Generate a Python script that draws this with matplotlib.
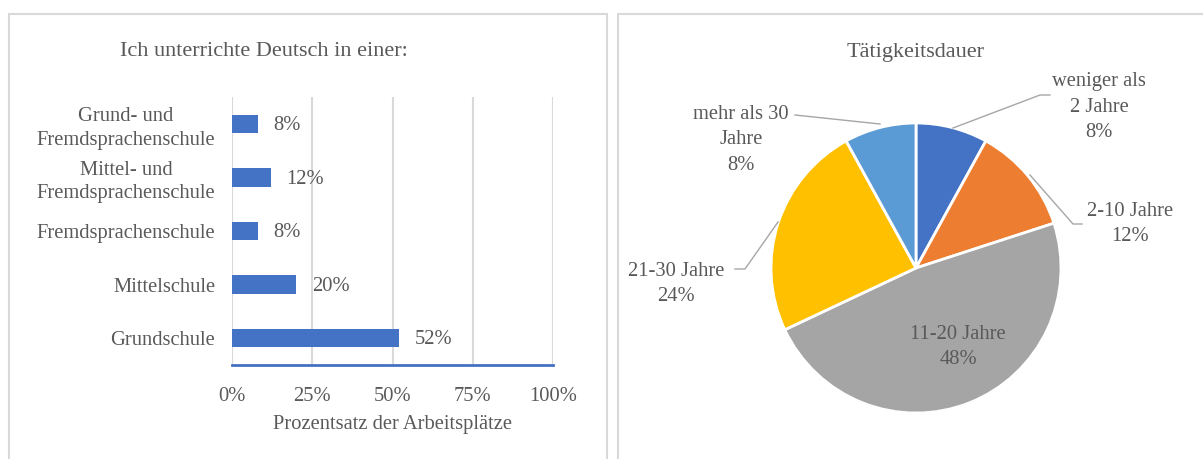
import matplotlib
matplotlib.use("Agg")
import matplotlib.pyplot as plt
from matplotlib.patches import Rectangle

# ---- data ----
bar_categories = ["Grundschule", "Mittelschule", "Fremdsprachenschule",
                  "Mittel- und\nFremdsprachenschule", "Grund- und\nFremdsprachenschule"]
bar_values = [52, 20, 8, 12, 8]
x_ticks = [0, 25, 50, 75, 100]
x_tick_labels = ["0%", "25%", "50%", "75%", "100%"]

pie_labels = ["weniger als\n2 Jahre", "2-10 Jahre", "11-20 Jahre", "21-30 Jahre", "mehr als 30\nJahre"]
pie_values = [8, 12, 48, 24, 8]
pie_colors = ["#4472C4", "#ED7D31", "#A5A5A5", "#FFC000", "#5B9BD5"]

plt.rcParams['font.family'] = ['Liberation Serif', 'DejaVu Serif']
TXT = "#595959"
FS = 14.8

W, H = 1203, 459
fig = plt.figure(figsize=(W / 100, H / 100), dpi=100)

def fx(px):
    return px / W

def fy(py):
    return 1 - py / H

# panel borders
for x0, x1 in [(9, 607), (618, 1215)]:
    fig.patches.append(Rectangle((fx(x0), fy(470)), fx(x1) - fx(x0), fy(14) - fy(470),
                                 transform=fig.transFigure, fill=False,
                                 edgecolor="#D9D9D9", linewidth=1.5))

# ---- bar chart ----
ax = fig.add_axes([fx(232), fy(365), fx(553) - fx(232), fy(97) - fy(365)])
ypos = list(range(len(bar_categories)))
ax.barh(ypos, bar_values, height=0.34, color="#4472C4", zorder=3)
ax.set_xlim(0, 100)
ax.set_ylim(-0.5, 4.5)
ax.set_xticks(x_ticks)
ax.set_xticklabels(x_tick_labels)
ax.set_yticks(ypos)
ax.set_yticklabels(bar_categories, ha="right", multialignment="center", linespacing=1.3)
ax.tick_params(axis="both", length=0, labelsize=FS, colors=TXT)
ax.tick_params(axis="x", pad=16)
ax.tick_params(axis="y", pad=12)
ax.grid(axis="x", color="#D9D9D9", linewidth=1.5, zorder=0)
for s in ["top", "right", "left"]:
    ax.spines[s].set_visible(False)
ax.spines["bottom"].set_color("#4472C4")
ax.spines["bottom"].set_linewidth(2)
ax.spines["bottom"].set_zorder(4)
for y, v in zip(ypos, bar_values):
    ax.text(v + 5, y - 0.03, f"{v}%", va="center", ha="left", fontsize=FS, color=TXT)
ax.set_xlabel("Prozentsatz der Arbeitsplätze", fontsize=FS, color=TXT, labelpad=6)
fig.text(fx(264), fy(52), "Ich unterrichte Deutsch in einer:", ha="center", va="center",
         fontsize=16, color=TXT)

# ---- pie chart ----
cx, cy, r = 916, 268, 145
pax = fig.add_axes([fx(cx - r), fy(cy + r), fx(2 * r), fy(0) - fy(2 * r)])
wedges, _ = pax.pie(pie_values, colors=pie_colors, startangle=90, counterclock=False,
                    wedgeprops=dict(edgecolor="white", linewidth=2))
pax.set_aspect("equal")
pax.set_xlim(-1, 1)
pax.set_ylim(-1, 1)
pax.axis("off")

fig.text(fx(916), fy(52), "Tätigkeitsdauer", ha="center", va="center", fontsize=16, color=TXT)

def lbl(text, x, y):
    fig.text(fx(x), fy(y), text, ha="center", va="center", fontsize=FS, color=TXT,
             linespacing=1.45)

lbl(pie_labels[0] + "\n8%", 1099, 107)
lbl(pie_labels[1] + "\n12%", 1130, 224)
lbl(pie_labels[2] + "\n48%", 958, 347)
lbl(pie_labels[3] + "\n24%", 676, 284)
lbl(pie_labels[4] + "\n8%", 741, 140)

def leader(pts):
    xs = [fx(p[0]) for p in pts]
    ys = [fy(p[1]) for p in pts]
    fig.add_artist(plt.Line2D(xs, ys, transform=fig.transFigure, color="#A6A6A6", linewidth=1))

leader([(953, 128), (1040, 95), (1050, 95)])
leader([(1030, 175), (1073, 224), (1082, 224)])
leader([(778, 222), (745, 269), (735, 269)])
leader([(880, 124), (795, 115), (795, 115)])

fig.savefig("out.png", dpi=100, facecolor="white")
